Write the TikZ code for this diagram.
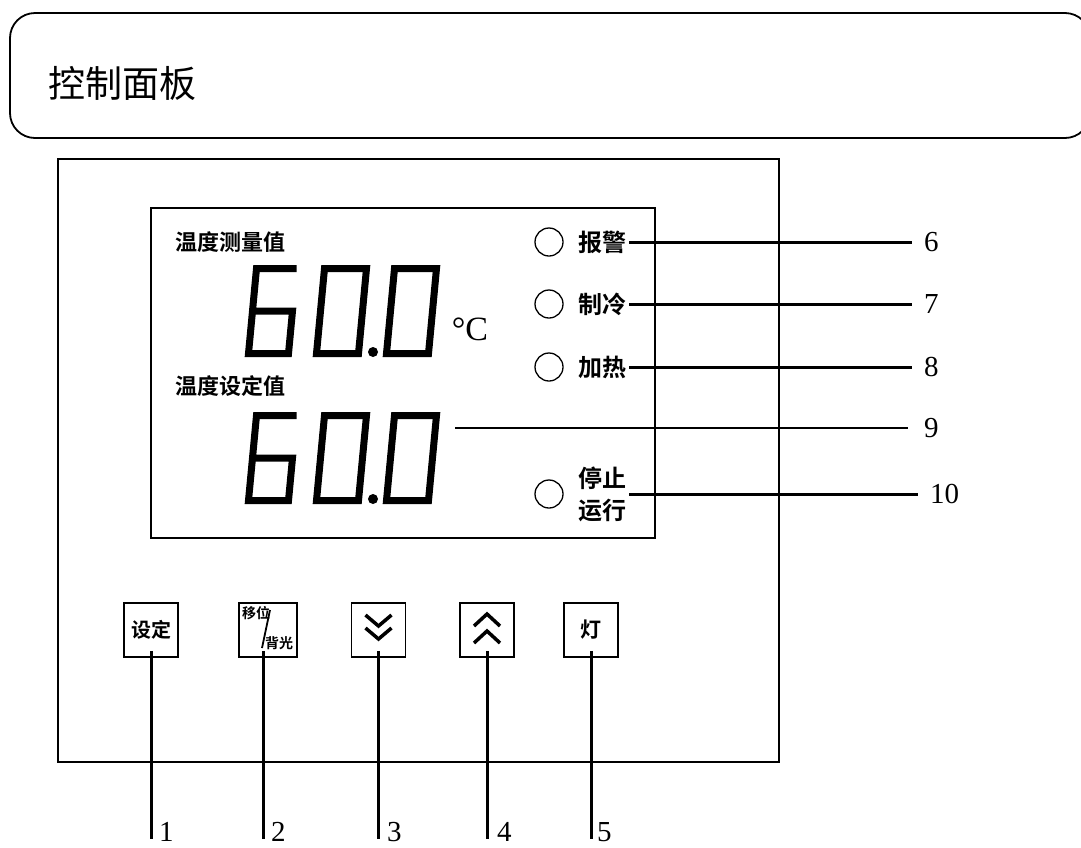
\documentclass[tikz,border=0pt]{standalone}
\usepackage{fontspec}
\usepackage{tikz}
\usetikzlibrary{positioning}
\newfontfamily\cjk[BoldFont={Noto Sans CJK SC Bold}]{Noto Sans CJK SC}
\newfontfamily\numfont{Liberation Serif}
\tikzset{
    titlebox/.style={rectangle, draw=black, line width=1.8pt, rounded corners=25pt, inner sep=0pt},
    titletext/.style={font=\cjk\fontsize{37}{40}\selectfont, inner sep=2pt},
    frame/.style={rectangle, draw=black, line width=2pt, inner sep=0pt},
    screen/.style={rectangle, draw=black, line width=1.6pt, inner sep=0pt},
    readlabel/.style={font=\cjk\bfseries\fontsize{22}{26}\selectfont, inner sep=2pt},
    unit/.style={font=\numfont\fontsize{34}{34}\selectfont, inner sep=0pt},
    segment/.style={line width=7pt, line join=miter},
    led/.style={circle, draw=black, line width=1.3pt, minimum size=28pt, inner sep=0pt},
    ledlabel/.style={font=\cjk\bfseries\fontsize{24}{32}\selectfont, inner sep=2pt},
    key/.style={rectangle, draw=black, line width=1.6pt, minimum width=54pt, minimum height=54pt, inner sep=0pt, font=\cjk\bfseries\fontsize{20}{22}\selectfont},
    keytiny/.style={font=\cjk\bfseries\fontsize{14}{16}\selectfont, inner sep=0pt},
    chev/.style={line width=3.5pt, line join=miter},
    callout/.style={font=\numfont\fontsize{29}{29}\selectfont, inner sep=0pt},
    leader/.style={line width=3pt},
    thinleader/.style={line width=1.3pt}
}

\begin{document}
\begin{tikzpicture}[x=1pt, y=-1pt, node distance=13pt]
    \useasboundingbox (0,0) rectangle (1081,847);

    % title bar
    \node[titlebox, minimum width=1080pt, minimum height=125pt] (titlebar) at (550,75.5) {};
    \node[titletext, anchor=west] (title) at (46,83) {控制面板};

    % panel and display window
    \node[frame, minimum width=721pt, minimum height=603pt] (panel) at (418.5,460.5) {};
    \node[screen, minimum width=504pt, minimum height=330pt] (display) at (403,373) {};

    \node[readlabel, anchor=west] (pvlabel) at (173,242) {温度测量值};
    \node[readlabel, anchor=west] (svlabel) at (173,386) {温度设定值};
    \node[unit] (unit) at (470,329) {°C};

    % seven segment readings
    \foreach \dy in {0,147} {
        \begin{scope}[shift={(0,\dy)}]
            \draw[segment] (296.5,268.5) -- (256.5,268.5) -- (248.5,353.5) -- (288.5,353.5) -- (292.5,311) -- (252.5,311);
            \draw[segment] (324.5,268.5) -- (366.5,268.5) -- (358.5,353.5) -- (316.5,353.5) -- cycle;
            \fill (373,352) circle (5pt);
            \draw[segment] (394.5,268.5) -- (436.5,268.5) -- (428.5,353.5) -- (386.5,353.5) -- cycle;
        \end{scope}
    }

    % indicator lamps
    \node[led] (led6) at (549,242) {};
    \node[ledlabel, right=of led6] (lab6) {报警};
    \node[led] (led7) at (549,304) {};
    \node[ledlabel, right=of led7] (lab7) {制冷};
    \node[led] (led8) at (549,367) {};
    \node[ledlabel, right=of led8] (lab8) {加热};
    \node[led] (led10) at (549,494) {};
    \node[ledlabel, right=of led10, align=left] (lab10) {停止\\运行};

    % callouts on the right
    \node[callout, anchor=west] (n6) at (924,242) {6};
    \node[callout, anchor=west] (n7) at (924,304) {7};
    \node[callout, anchor=west] (n8) at (924,367) {8};
    \node[callout, anchor=west] (n9) at (924,428) {9};
    \node[callout, anchor=west] (n10) at (930,494) {10};
    \coordinate (svend) at (455,428);

    \foreach \i in {6,7,8,10} {
        \draw[leader, shorten >=12pt] (lab\i.east) -- (n\i.west);
    }
    \draw[thinleader, shorten >=16pt] (svend) -- (n9.west);

    % keys
    \node[key] (k1) at (151,630) {设定};
    \node[key, minimum width=58pt] (k2) at (268,630) {};
    \node[keytiny] (k2a) at (256,613) {移位};
    \node[keytiny] (k2b) at (279,643) {背光};
    \draw[line width=1.8pt] (270,610) -- (262,648);
    \node[key] (k3) at (378.5,630) {};
    \node[key] (k4) at (487,630) {};
    \node[key, font=\cjk\bfseries\fontsize{21}{24}\selectfont] (k5) at (591,630) {灯};

    \begin{scope}[shift={(k3.center)}]
        \draw[chev] (-13,-15) -- (0,-4) -- (13,-15);
        \draw[chev] (-13,-2) -- (0,9) -- (13,-2);
    \end{scope}
    \begin{scope}[shift={(k4.center)}]
        \draw[chev] (-13,-4) -- (0,-16) -- (13,-4);
        \draw[chev] (-13,13) -- (0,1) -- (13,13);
    \end{scope}

    % callouts below
    \node[callout, anchor=north west] (n1) at (159,822) {1};
    \node[callout, anchor=north west] (n2) at (271,822) {2};
    \node[callout, anchor=north west] (n3) at (387,822) {3};
    \node[callout, anchor=north west] (n4) at (497,822) {4};
    \node[callout, anchor=north west] (n5) at (597,822) {5};
    \coordinate (k2foot) at ([xshift=-5pt]k2.south);

    \foreach \i in {1,3,4,5} {
        \draw[leader, shorten <=-7pt, shorten >=2pt] (k\i.south) -- (k\i.south |- n\i.base);
    }
    \draw[leader, shorten <=-7pt, shorten >=2pt] (k2foot) -- (k2foot |- n2.base);
\end{tikzpicture}
\end{document}
